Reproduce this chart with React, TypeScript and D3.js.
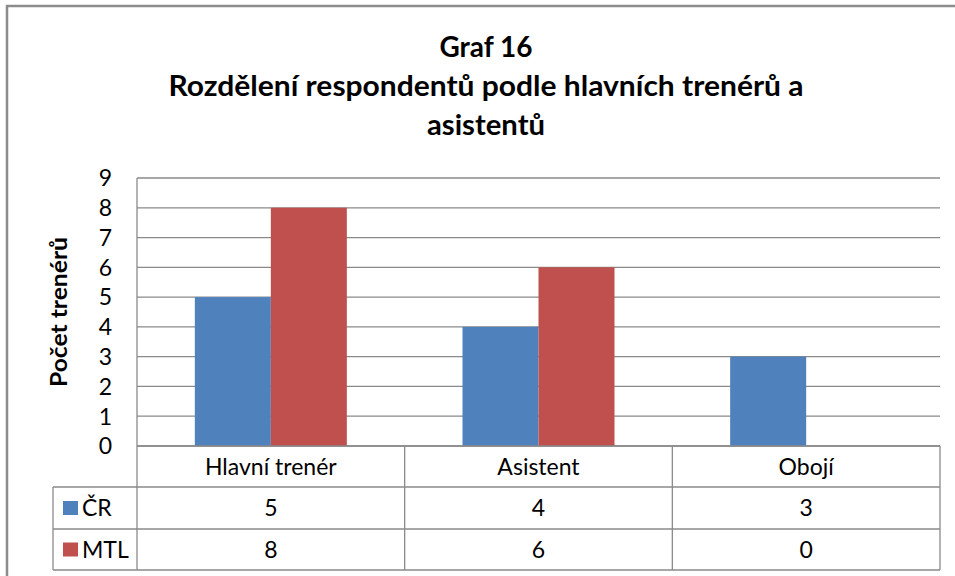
import React from "react";
import * as d3 from "d3";

const categories = ["Hlavní trenér", "Asistent", "Obojí"];
const seriesNames = ["ČR", "MTL"];
const valuesCR = [5, 4, 3];
const valuesMTL = [8, 6, 0];
const yTicks = [0, 1, 2, 3, 4, 5, 6, 7, 8, 9];
const titleLines = ["Graf 16", "Rozdělení respondentů podle hlavních trenérů a", "asistentů"];
const yAxisTitle = "Počet trenérů";

const W = 955;
const H = 576;
const FONT = "Lato, 'Open Sans', sans-serif";
const COLORS = ["#4F81BD", "#C0504D"];
const GRID = "#8a8a8a";
const titleWidths = [93, 635, 118];

export default function App() {
  const plotLeft = 137;
  const plotRight = 940;
  const plotTop = 178;
  const plotBottom = 446;
  const rowH = [41, 42, 41];
  const tableLeft = 53;

  const x = d3.scaleBand<string>().domain(categories).range([plotLeft, plotRight]).padding(0);
  const bw = x.bandwidth();
  const barW = 76;
  const inner = d3
    .scaleBand<string>()
    .domain(seriesNames)
    .range([(bw - 2 * barW) / 2, (bw + 2 * barW) / 2])
    .padding(0);
  const y = d3.scaleLinear().domain([0, 9]).range([plotBottom, plotTop]);

  const series = [valuesCR, valuesMTL];
  const row1 = plotBottom + rowH[0];
  const row2 = row1 + rowH[1];
  const row3 = row2 + rowH[2];
  const rowCenters = [plotBottom + rowH[0] / 2, row1 + rowH[1] / 2, row2 + rowH[2] / 2];

  return (
    <svg
      width={W}
      height={H}
      style={{ position: "absolute", left: 0, top: 0, background: "#fff" }}
      fontFamily={FONT}
    >
      <rect x={0} y={0} width={W} height={H} fill="#fff" />
      <rect x={7} y={6} width={W + 20} height={H + 20} fill="none" stroke="#8c8c8c" strokeWidth={2.5} />

      {/* title */}
      <g fontWeight="bold" fontSize={28} fill="#000" textAnchor="middle">
        {titleLines.map((t, i) => (
          <text
            key={i}
            x={486}
            y={57 + i * 39}
            textLength={titleWidths[i]}
            lengthAdjust="spacingAndGlyphs"
          >
            {t}
          </text>
        ))}
      </g>

      {/* gridlines */}
      {yTicks.map((t) => (
        <line key={t} x1={plotLeft} x2={plotRight} y1={y(t)} y2={y(t)} stroke={GRID} strokeWidth={1.3} />
      ))}

      {/* bars */}
      {series.map((vals, si) =>
        categories.map((c, ci) => (
          <rect
            key={`${si}-${ci}`}
            x={(x(c) as number) + (inner(seriesNames[si]) as number)}
            y={y(vals[ci])}
            width={inner.bandwidth()}
            height={plotBottom - y(vals[ci])}
            fill={COLORS[si]}
          />
        ))
      )}

      {/* y tick labels */}
      <g fontSize={23} fill="#000" textAnchor="end">
        {yTicks.map((t) => (
          <text key={t} x={112} y={y(t)} dy="0.36em">
            {t}
          </text>
        ))}
      </g>

      {/* y axis title */}
      <text
        transform={`translate(67, ${(plotTop + plotBottom) / 2}) rotate(-90)`}
        textAnchor="middle"
        fontWeight="bold"
        fontSize={23}
        fill="#000"
        textLength={150}
        lengthAdjust="spacingAndGlyphs"
      >
        {yAxisTitle}
      </text>

      {/* axis line */}
      <line x1={plotLeft} x2={plotLeft} y1={plotTop} y2={row3} stroke={GRID} strokeWidth={1.3} />

      {/* table lines */}
      <g stroke={GRID} strokeWidth={1.3}>
        <line x1={plotLeft} x2={plotRight} y1={plotBottom} y2={plotBottom} />
        <line x1={tableLeft} x2={plotRight} y1={row1} y2={row1} />
        <line x1={tableLeft} x2={plotRight} y1={row2} y2={row2} />
        <line x1={tableLeft} x2={plotRight} y1={row3} y2={row3} />
        <line x1={tableLeft} x2={tableLeft} y1={row1} y2={row3} />
        {categories.map((c) => (
          <line key={c} x1={(x(c) as number) + bw} x2={(x(c) as number) + bw} y1={plotBottom} y2={row3} />
        ))}
      </g>

      {/* header labels */}
      <g fontSize={23} fill="#000" textAnchor="middle">
        {categories.map((c) => (
          <text key={c} x={(x(c) as number) + bw / 2} y={rowCenters[0]} dy="0.36em">
            {c}
          </text>
        ))}
        {series.map((vals, si) =>
          categories.map((c, ci) => (
            <text key={`${si}-${ci}`} x={(x(c) as number) + bw / 2} y={rowCenters[si + 1]} dy="0.36em">
              {vals[ci]}
            </text>
          ))
        )}
      </g>

      {/* legend keys */}
      {seriesNames.map((s, si) => (
        <g key={s}>
          <rect x={63} y={rowCenters[si + 1] - 7} width={15} height={14} fill={COLORS[si]} />
          <text x={82} y={rowCenters[si + 1]} dy="0.36em" fontSize={23} fill="#000">
            {s}
          </text>
        </g>
      ))}
    </svg>
  );
}
